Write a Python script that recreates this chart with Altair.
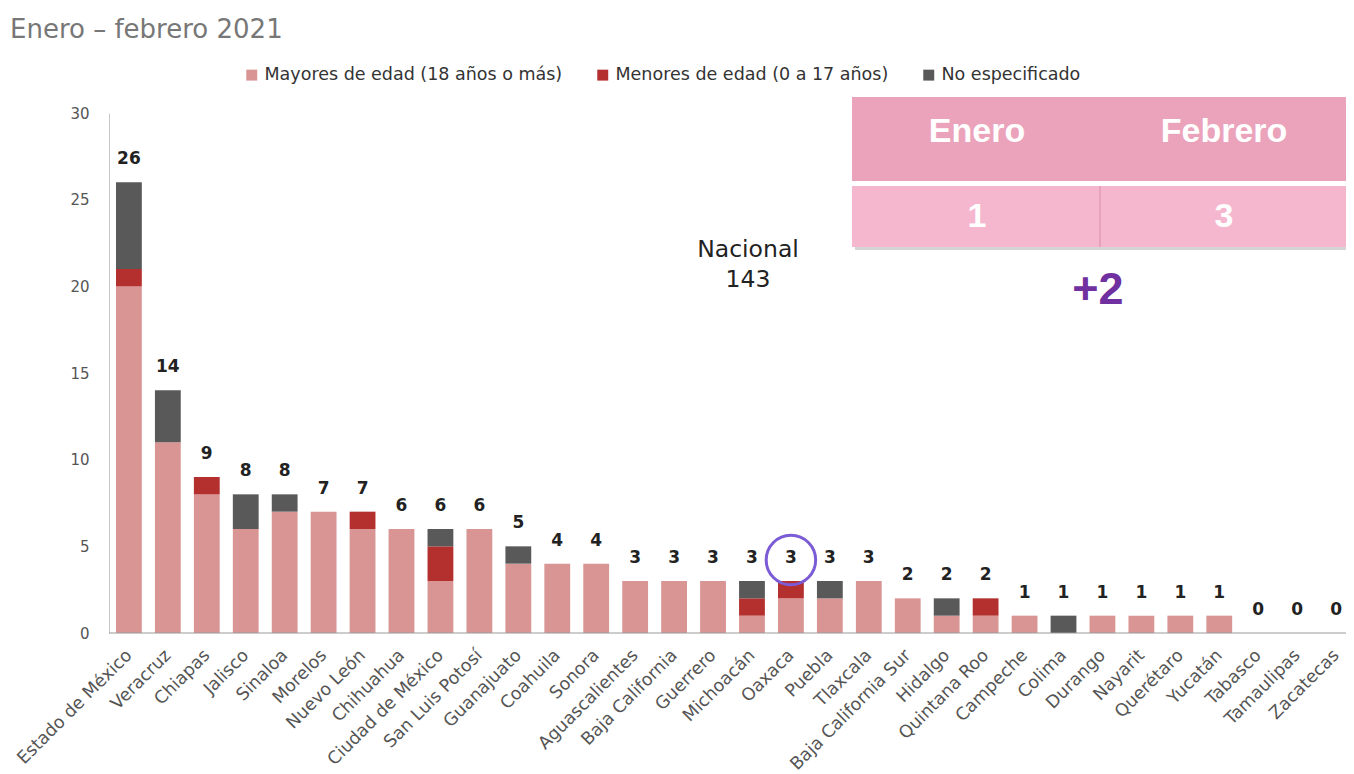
import altair as alt
import pandas as pd

FONT = "DejaVu Sans"

states = ["Estado de México", "Veracruz", "Chiapas", "Jalisco", "Sinaloa", "Morelos",
          "Nuevo León", "Chihuahua", "Ciudad de México", "San Luis Potosí", "Guanajuato",
          "Coahuila", "Sonora", "Aguascalientes", "Baja California", "Guerrero",
          "Michoacán", "Oaxaca", "Puebla", "Tlaxcala", "Baja California Sur", "Hidalgo",
          "Quintana Roo", "Campeche", "Colima", "Durango", "Nayarit", "Querétaro",
          "Yucatán", "Tabasco", "Tamaulipas", "Zacatecas"]
mayores = [20, 11, 8, 6, 7, 7, 6, 6, 3, 6, 4, 4, 4, 3, 3, 3, 1, 2, 2, 3, 2, 1, 1, 1, 0, 1, 1, 1, 1, 0, 0, 0]
menores = [1, 0, 1, 0, 0, 0, 1, 0, 2, 0, 0, 0, 0, 0, 0, 0, 1, 1, 0, 0, 0, 0, 1, 0, 0, 0, 0, 0, 0, 0, 0, 0]
no_esp = [5, 3, 0, 2, 1, 0, 0, 0, 1, 0, 1, 0, 0, 0, 0, 0, 1, 0, 1, 0, 0, 1, 0, 0, 1, 0, 0, 0, 0, 0, 0, 0]

series_names = ["Mayores de edad (18 años o más)", "Menores de edad (0 a 17 años)", "No especificado"]
series_colors = ["#D99594", "#B3302F", "#595959"]
y_ticks = [0, 5, 10, 15, 20, 25, 30]

title_text = "Enero – febrero 2021"
nacional_lines = ["Nacional", "143"]
table_months = ["Enero", "Febrero"]
table_values = ["1", "3"]
diff_text = "+2"
highlight_state = "Oaxaca"

# ---- build tables ----
rows = []
for i, s in enumerate(states):
    for k, (name, vals) in enumerate(zip(series_names, [mayores, menores, no_esp])):
        rows.append({"estado": s, "serie": name, "valor": vals[i], "orden": k})
df = pd.DataFrame(rows)
totals = [a + b + c for a, b, c in zip(mayores, menores, no_esp)]
tot = pd.DataFrame({"estado": states, "total": totals})
hl = tot[tot["estado"] == highlight_state]

W, H = 1237, 520
X_RANGE = [7, 1240]

x_scale = alt.Scale(paddingInner=0.337, paddingOuter=0, range=X_RANGE)

x_enc = alt.X("estado:N", sort=states, scale=x_scale,
              axis=alt.Axis(title=None, labelAngle=315, labelFontSize=17.5, labelFont=FONT,
                            labelColor="#555", domain=False, ticks=False,
                            labelPadding=13, labelOffset=-6, labelOverlap=False,
                            labelLimit=300))

y_scale = alt.Scale(domain=[0, 30], nice=False)

bars = alt.Chart(df).mark_bar().encode(
    x=x_enc,
    y=alt.Y("valor:Q", stack="zero", scale=y_scale,
            axis=alt.Axis(title=None, values=y_ticks, grid=False, ticks=False,
                          labelFontSize=15, labelFont=FONT, labelColor="#555",
                          labelPadding=20, domainColor="#c8c8c8")),
    color=alt.Color("serie:N", scale=alt.Scale(domain=series_names, range=series_colors),
                    legend=alt.Legend(orient="none", legendX=134, legendY=-47,
                                      direction="horizontal", title=None, symbolType="square",
                                      symbolSize=120, symbolStrokeWidth=0, labelFontSize=17.5,
                                      labelFont=FONT, labelColor="#333", columnPadding=31,
                                      labelLimit=400)),
    order=alt.Order("orden:Q"),
)

baseline = alt.Chart(pd.DataFrame({"k": [0]})).mark_rule(color="#9a9a9a", strokeWidth=1).encode(
    x=alt.value(0), x2=alt.value(W), y=alt.value(H))

labels = alt.Chart(tot).mark_text(dy=-23, fontWeight="bold", fontSize=17, font=FONT,
                                  color="#222", baseline="middle").encode(
    x=alt.X("estado:N", sort=states),
    y=alt.Y("total:Q", scale=y_scale),
    text="total:Q",
)

circle = alt.Chart(hl).mark_point(shape="circle", size=2450, filled=False, strokeWidth=3,
                                  color="#7B5BD6", yOffset=-21, opacity=1).encode(
    x=alt.X("estado:N", sort=states),
    y=alt.Y("total:Q", scale=y_scale),
)

one = pd.DataFrame({"k": [0]})

title = alt.Chart(pd.DataFrame({"t": [title_text]})).mark_text(
    align="left", baseline="middle", fontSize=26, font=FONT, color="#777").encode(
    x=alt.value(-99), y=alt.value(-83), text="t:N")

nac_layers = []
for line, yy in zip(nacional_lines, [137, 167]):
    nac_layers.append(alt.Chart(pd.DataFrame({"t": [line]})).mark_text(
        align="center", baseline="middle", fontSize=23.5, font=FONT, color="#222").encode(
        x=alt.value(639), y=alt.value(yy), text="t:N"))

shadow = alt.Chart(one).mark_rect(color="#888", opacity=0.35).encode(
    x=alt.value(746), x2=alt.value(1240), y=alt.value(-13), y2=alt.value(137))
head = alt.Chart(one).mark_rect(color="#EBA3BC").encode(
    x=alt.value(743), x2=alt.value(1237), y=alt.value(-16), y2=alt.value(68))
sep = alt.Chart(one).mark_rect(color="#FFFFFF").encode(
    x=alt.value(743), x2=alt.value(1237), y=alt.value(68), y2=alt.value(73))
body = alt.Chart(one).mark_rect(color="#F5B7CE").encode(
    x=alt.value(743), x2=alt.value(1237), y=alt.value(73), y2=alt.value(134))
divider = alt.Chart(one).mark_rule(color="#E59AB5", strokeWidth=1.5).encode(
    x=alt.value(991), y=alt.value(73), y2=alt.value(134))

col_centers = [868, 1115]
table_txt = []
for m, v, cx in zip(table_months, table_values, col_centers):
    table_txt.append(alt.Chart(pd.DataFrame({"t": [m]})).mark_text(
        align="center", baseline="middle", fontSize=34, fontWeight="bold",
        font="Liberation Sans", color="white").encode(
        x=alt.value(cx), y=alt.value(19), text="t:N"))
    table_txt.append(alt.Chart(pd.DataFrame({"t": [v]})).mark_text(
        align="center", baseline="middle", fontSize=34, fontWeight="bold",
        font="Liberation Sans", color="white").encode(
        x=alt.value(cx), y=alt.value(104), text="t:N"))

diff = alt.Chart(pd.DataFrame({"t": [diff_text]})).mark_text(
    align="center", baseline="middle", fontSize=45, fontWeight="bold",
    font="Liberation Sans", color="#7030A0").encode(
    x=alt.value(989), y=alt.value(177), text="t:N")

chart = alt.layer(bars, baseline, labels, circle, title, *nac_layers, shadow, head, sep, body,
                  divider, *table_txt, diff).properties(
    width=W, height=H,
    autosize=alt.AutoSizeParams(type="none"),
    padding={"left": 101, "top": 105, "right": 0, "bottom": 140},
    background="white",
).configure_view(stroke=None)

chart.save("out.html", embed_options={"renderer": "svg", "actions": False})
